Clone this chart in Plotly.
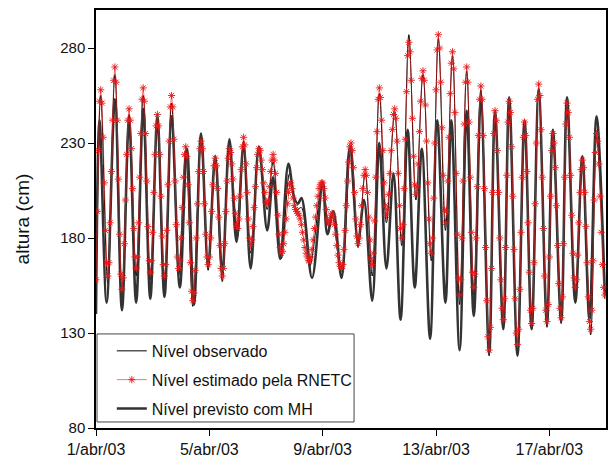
import plotly.graph_objects as go
import pandas as pd

START = pd.Timestamp("2003-04-01 00:00")

# Nível estimado pela RNETC (cm), valores horários a partir de 1/abr/03 00h
rnetc_nivel = [
    158, 194, 226, 252, 258, 251, 233, 209, 184, 167,
    160, 167, 188, 215, 242, 263, 270, 262, 242, 211,
    182, 161, 153, 159, 177, 200, 224, 242, 248, 242,
    227, 206, 185, 170, 164, 170, 188, 212, 235, 253,
    259, 252, 235, 210, 186, 168, 162, 168, 183, 204,
    224, 239, 245, 239, 224, 202, 181, 166, 160, 166,
    184, 208, 231, 249, 255, 249, 232, 210, 187, 170,
    164, 168, 180, 196, 212, 224, 228, 223, 208, 188,
    167, 152, 147, 151, 163, 180, 198, 215, 227, 231,
    227, 215, 198, 182, 170, 166, 170, 180, 194, 208,
    218, 222, 218, 206, 191, 176, 164, 160, 164, 177,
    194, 210, 222, 227, 225, 219, 211, 201, 193, 187,
    185, 190, 202, 216, 228, 233, 229, 219, 204, 190,
    180, 176, 179, 186, 196, 207, 217, 224, 227, 226,
    221, 216, 209, 204, 199, 198, 200, 207, 215, 221,
    224, 221, 214, 204, 192, 182, 175, 172, 173, 177,
    183, 190, 198, 204, 208, 209, 206, 201, 197, 195,
    194, 193, 192, 190, 187, 183, 179, 175, 172, 170,
    168, 168, 170, 174, 179, 185, 191, 197, 202, 206,
    208, 209, 209, 206, 201, 195, 190, 188, 189, 192,
    193, 191, 187, 182, 176, 171, 167, 165, 164, 166,
    174, 184, 197, 210, 220, 228, 230, 226, 217, 204,
    190, 181, 177, 180, 187, 197, 206, 213, 216, 213,
    204, 191, 179, 169, 166, 172, 189, 212, 236, 253,
    259, 254, 242, 226, 209, 197, 192, 195, 203, 214,
    226, 237, 245, 248, 243, 231, 214, 197, 185, 180,
    187, 206, 232, 257, 276, 283, 278, 263, 243, 223,
    208, 203, 207, 219, 236, 252, 264, 268, 263, 250,
    231, 209, 190, 177, 172, 180, 201, 230, 258, 279,
    287, 280, 262, 238, 213, 195, 188, 194, 210, 233,
    256, 272, 278, 269, 246, 214, 182, 159, 150, 158,
    180, 210, 240, 262, 270, 262, 241, 212, 183, 162,
    154, 161, 180, 207, 234, 253, 260, 253, 234, 206,
    175, 147, 128, 121, 133, 164, 204, 235, 247, 242,
    226, 204, 180, 158, 143, 137, 148, 175, 213, 241,
    252, 246, 228, 202, 174, 148, 130, 124, 132, 153,
    183, 212, 233, 241, 234, 215, 188, 162, 142, 135,
    143, 167, 198, 230, 253, 261, 255, 237, 212, 185,
    160, 142, 136, 145, 170, 202, 226, 235, 230, 217,
    197, 176, 156, 143, 138, 149, 177, 212, 240, 251,
    246, 233, 213, 192, 172, 159, 154, 158, 171, 188,
    204, 216, 221, 217, 204, 186, 167, 149, 136, 132,
    142, 168, 200, 225, 235, 231, 219, 202, 183, 166,
    154, 150,
]

# Nível previsto com MH: preamares e baixa-mares (horas desde 1/abr 00h, cm)
mh_horas = [0, 3, 9, 16, 22, 28, 34, 40, 46, 52, 58, 64, 71, 77, 83, 89, 95,
            101, 107, 113, 119, 125, 131, 138, 145, 150, 156, 163, 168, 171,
            174, 183, 192, 196, 201, 208, 215, 222, 227, 234, 240, 246, 252,
            258, 264, 270, 276, 283, 289, 296, 301, 308, 314, 320, 326, 333,
            338, 345, 350, 357, 363, 369, 375, 382, 387, 394, 399, 406, 412,
            418, 424, 431]
mh_nivel = [140, 242, 146, 253, 142, 242, 146, 248, 148, 244, 149, 244, 154,
            227, 145, 235, 165, 223, 161, 232, 178, 229, 164, 228, 184, 212,
            169, 219, 201, 198, 201, 159, 209, 182, 194, 159, 228, 178, 200,
            147, 230, 164, 214, 137, 237, 154, 227, 127, 242, 146, 242, 121,
            247, 139, 253, 119, 247, 132, 254, 118, 242, 132, 258, 135, 237,
            136, 254, 146, 223, 137, 244, 150]

# Nível observado: preamares e baixa-mares (horas desde 1/abr 00h, cm)
obs_horas = [0, 4, 10, 16, 22, 28, 34, 40, 46, 52, 58, 64, 70, 76, 82, 89, 95,
             101, 107, 113, 120, 125, 131, 138, 145, 150, 157, 164, 170, 174,
             181, 192, 197, 200, 208, 216, 222, 228, 234, 240, 246, 253, 259,
             265, 271, 277, 284, 290, 296, 302, 308, 314, 320, 326, 333, 338,
             345, 350, 357, 363, 369, 375, 382, 387, 394, 399, 406, 412, 419,
             424, 431]
obs_nivel = [150, 255, 156, 266, 149, 245, 160, 255, 158, 242, 156, 251, 160,
             226, 144, 229, 163, 220, 157, 225, 181, 231, 172, 225, 195, 220,
             169, 214, 195, 196, 165, 210, 186, 192, 160, 229, 175, 214, 160,
             256, 188, 246, 176, 287, 200, 266, 168, 285, 184, 276, 145, 268,
             150, 258, 118, 245, 134, 250, 121, 239, 132, 259, 133, 233, 135,
             249, 150, 219, 129, 233, 148]

tick_datas = ["2003-04-01", "2003-04-05", "2003-04-09", "2003-04-13", "2003-04-17"]
tick_rotulos = ["1/abr/03", "5/abr/03", "9/abr/03", "13/abr/03", "17/abr/03"]
y_ticks = [80, 130, 180, 230, 280]


def tempo(horas):
    return [START + pd.Timedelta(hours=h) for h in horas]


rnetc_tempo = pd.date_range(START, periods=len(rnetc_nivel), freq="h")

RED = "rgb(232,24,24)"
FONT = "Liberation Sans, Arial, sans-serif"

fig = go.Figure()
fig.add_trace(go.Scatter(
    x=tempo(obs_horas), y=obs_nivel, mode="lines", name="Nível observado",
    line=dict(color="black", width=1, shape="spline", smoothing=1),
    legendrank=1, legendgroup="a"))
fig.add_trace(go.Scatter(
    x=tempo(mh_horas), y=mh_nivel, mode="lines", name="Nível previsto com MH",
    line=dict(color="#333333", width=2.6, shape="spline", smoothing=1),
    legendrank=3, legendgroup="c"))
fig.add_trace(go.Scatter(
    x=rnetc_tempo, y=rnetc_nivel, mode="lines+markers",
    name="Nível estimado pela RNETC",
    line=dict(color="rgba(232,24,24,0.75)", width=0.8),
    marker=dict(symbol="asterisk-open", size=6, color=RED,
                line=dict(color=RED, width=0.9)),
    legendrank=2, legendgroup="b"))

# moldura da legenda
fig.add_shape(type="rect", xref="paper", yref="paper",
              x0=0.002, x1=0.506, y0=0.0144, y1=0.225,
              fillcolor="white", line=dict(color="#444", width=1),
              layer="above")

fig.update_layout(
    width=614, height=465,
    margin=dict(l=96, r=6, t=10, b=37),
    paper_bgcolor="white", plot_bgcolor="white",
    font=dict(family=FONT, color="#111"),
    showlegend=True,
    legend=dict(x=0.031, y=0.225, xanchor="left", yanchor="top",
                bgcolor="rgba(0,0,0,0)", borderwidth=0,
                font=dict(size=16, family=FONT, color="#111"),
                tracegroupgap=5),
)
fig.update_xaxes(
    range=[START, START + pd.Timedelta(days=18)],
    tickvals=tick_datas, ticktext=tick_rotulos,
    tickfont=dict(size=16, family=FONT, color="#111"),
    showgrid=False, zeroline=False,
    showline=True, linecolor="black", linewidth=1.5, mirror=True,
    ticks="outside", ticklen=6, tickcolor="black",
)
fig.update_yaxes(
    range=[80, 300], tickvals=y_ticks,
    tickfont=dict(size=15, family=FONT, color="#111"),
    title=dict(text="altura (cm)", font=dict(size=19, family=FONT, color="#111"),
               standoff=26),
    showgrid=False, zeroline=False,
    showline=True, linecolor="black", linewidth=1.5, mirror=True,
    ticks="outside", ticklen=6, tickcolor="black",
)

fig.write_html("out.html",
               config={"displayModeBar": False},
               post_script="document.body.style.margin='0px';"
                           "document.body.style.padding='0px';")
